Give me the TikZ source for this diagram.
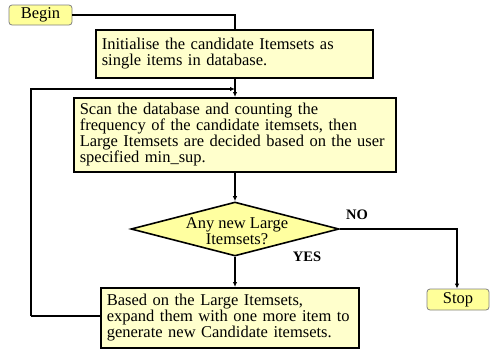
\documentclass[tikz,border=0pt]{standalone}
\usepackage{fontspec}
\setmainfont{Liberation Serif}
\usetikzlibrary{arrows.meta,shapes.geometric}
\definecolor{termfill}{HTML}{FFFF99}
\definecolor{boxfill}{HTML}{FFFFCC}
\definecolor{decfill}{HTML}{FFFFA0}
\definecolor{termdraw}{HTML}{808080}
\tikzset{
  terminal/.style={draw=termdraw, line width=0.8pt, fill=termfill, rounded corners=3pt, inner sep=0pt, font=\fontsize{16.5}{16}\selectfont},
  stepbox/.style={draw=black, line width=1.6pt, fill=boxfill, anchor=north west, inner xsep=6pt, inner ysep=0pt, align=left, font=\fontsize{16.5}{16}\selectfont},
  decision/.style={diamond, draw=black, line width=1.6pt, fill=decfill, inner sep=0pt},
  conn/.style={line width=1.3pt, black},
  arr/.style={conn, -{Latex[length=5pt,width=4.5pt]}},
  lbl/.style={font=\fontsize{14.5}{14}\selectfont\bfseries, inner sep=0pt}
}
\begin{document}
\begin{tikzpicture}[x=1pt,y=-1pt]
\useasboundingbox (0,0) rectangle (494,349);
% terminals
\node[terminal, minimum width=63pt, minimum height=20pt] (begin) at (40.5,15) {Begin};
\node[terminal, minimum width=62pt, minimum height=21pt] (stop) at (458,299.5) {Stop};
% boxes
\node[stepbox, minimum width=277pt, minimum height=48pt, text width=265pt] (b1) at (95,29)
  {Initialise the candidate Itemsets as\\single items in database.};
\node[stepbox, minimum width=322pt, minimum height=74pt, text width=310pt] (b2) at (73,97)
  {Scan the database and counting the\\frequency of the candidate itemsets, then\\Large Itemsets are decided based on the user\\specified min\_sup.};
\node[stepbox, minimum width=258pt, minimum height=60pt, text width=246pt] (b3) at (100,287)
  {Based on the Large Itemsets,\\expand them with one more item to\\generate new Candidate itemsets.};
% decision
\node[decision, minimum width=208pt, minimum height=54pt] (dec) at (235,229) {};
\node[align=center, inner sep=0pt, font=\fontsize{16.5}{15.5}\selectfont] (dectext) at (237,231) {Any new Large\\Itemsets?};
% coordinates
\coordinate (c1) at (235,15);
\coordinate (loopin) at (235,89);
\coordinate (c2) at (31,316);
\coordinate (c3) at (31,89);
\coordinate (c4) at (457,229);
% connectors
\draw[conn] (begin.east) -- (c1) -- (c1 |- b1.north);
\draw[arr] (b1.south -| c1) -- (c1 |- b2.north);
\draw[arr] (c2) -- (c3) -- (loopin);
\draw[conn] (b3.west |- c2) -- (c2);
\draw[arr] (b2.south -| dec.north) -- (dec.north);
\draw[arr] (dec.south) -- (dec.south |- b3.north);
\draw[arr] (dec.east) -- (c4) -- (stop.north -| c4);
% labels
\node[lbl] (no) at (357,215) {NO};
\node[lbl] (yes) at (307,257) {YES};
\end{tikzpicture}
\end{document}
